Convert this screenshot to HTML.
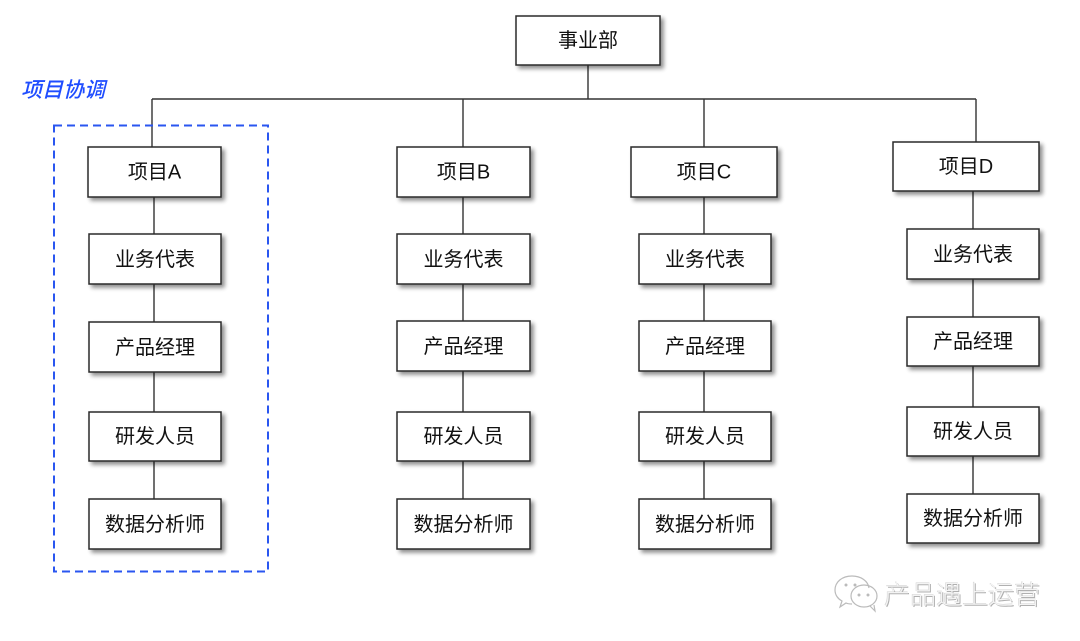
<!DOCTYPE html>
<html><head><meta charset="utf-8"><style>
html,body{margin:0;padding:0;background:#fff;}
svg{display:block;}
text{font-family:"Liberation Sans","Noto Sans CJK SC",sans-serif;}
</style></head><body>
<svg width="1080" height="641" viewBox="0 0 1080 641" xmlns="http://www.w3.org/2000/svg">
<defs>
<filter id="sh" x="-10%" y="-20%" width="130%" height="160%">
<feGaussianBlur in="SourceAlpha" stdDeviation="2"/>
<feOffset dx="3" dy="3" result="b"/>
<feComponentTransfer><feFuncA type="linear" slope="0.45"/></feComponentTransfer>
<feMerge><feMergeNode/><feMergeNode in="SourceGraphic"/></feMerge>
</filter>
</defs>
<rect width="1080" height="641" fill="#fff"/>

<!-- connectors -->
<g stroke="#333" stroke-width="1.4" fill="none">
<line x1="588" y1="65" x2="588" y2="99"/>
<line x1="152" y1="99" x2="976" y2="99"/>
<line x1="152" y1="99" x2="152" y2="147"/>
<line x1="463" y1="99" x2="463" y2="147"/>
<line x1="704" y1="99" x2="704" y2="147"/>
<line x1="976" y1="99" x2="976" y2="142"/>
<line x1="154" y1="197" x2="154" y2="499"/>
<line x1="463" y1="197" x2="463" y2="499"/>
<line x1="704" y1="197" x2="704" y2="499"/>
<line x1="973" y1="191" x2="973" y2="494"/>
</g>

<!-- dashed group -->
<rect x="54" y="125.5" width="214" height="446" fill="none" stroke="#2a56f0" stroke-width="2" stroke-dasharray="8 5"/>
<text x="0" y="0" font-size="21" fill="#1f4dff" font-weight="500" transform="translate(21,97) skewX(-14)">项目协调</text>

<!-- boxes -->
<g filter="url(#sh)" fill="#fff" stroke="#2a2a2a" stroke-width="1.5">
<rect x="516" y="16" width="144" height="49"/>
<rect x="88" y="147" width="133" height="50"/>
<rect x="397" y="147" width="133" height="50"/>
<rect x="631" y="147" width="146" height="50"/>
<rect x="893" y="142" width="146" height="49"/>

<rect x="89" y="234" width="132" height="50"/>
<rect x="89" y="322" width="132" height="50"/>
<rect x="89" y="412" width="132" height="49"/>
<rect x="89" y="499" width="132" height="50"/>

<rect x="397" y="234" width="133" height="50"/>
<rect x="397" y="321" width="133" height="50"/>
<rect x="397" y="412" width="133" height="49"/>
<rect x="397" y="499" width="133" height="50"/>

<rect x="639" y="234" width="132" height="50"/>
<rect x="639" y="321" width="132" height="50"/>
<rect x="639" y="412" width="132" height="49"/>
<rect x="639" y="499" width="132" height="50"/>

<rect x="907" y="229" width="132" height="50"/>
<rect x="907" y="317" width="132" height="49"/>
<rect x="907" y="407" width="132" height="49"/>
<rect x="907" y="494" width="132" height="49"/>
</g>

<g font-size="20" fill="#111" text-anchor="middle" dominant-baseline="central">
<text x="588" y="41">事业部</text>
<text x="154.5" y="172.5">项目A</text>
<text x="463.5" y="172.5">项目B</text>
<text x="704" y="172.5">项目C</text>
<text x="966" y="167">项目D</text>

<text x="155" y="260">业务代表</text>
<text x="155" y="348">产品经理</text>
<text x="155" y="437">研发人员</text>
<text x="155" y="525">数据分析师</text>

<text x="463.5" y="260">业务代表</text>
<text x="463.5" y="347">产品经理</text>
<text x="463.5" y="437">研发人员</text>
<text x="463.5" y="525">数据分析师</text>

<text x="705" y="260">业务代表</text>
<text x="705" y="347">产品经理</text>
<text x="705" y="437">研发人员</text>
<text x="705" y="525">数据分析师</text>

<text x="973" y="255">业务代表</text>
<text x="973" y="342">产品经理</text>
<text x="973" y="432">研发人员</text>
<text x="973" y="519">数据分析师</text>
</g>

<!-- watermark -->
<g fill="none" stroke="#bbb" stroke-width="1.2">
<path d="M852 576 c-10 0 -17 6 -17 14 c0 5 3 9 7 11 l-2 6 l6 -4 c2 1 4 1 6 1"/>
<path d="M852 576 c9 0 16 5 17 12"/>
<ellipse cx="864" cy="596" rx="13" ry="11"/>
<path d="M870 606 l5 5 l-1 -6"/>
</g>
<g fill="#bbb">
<circle cx="846" cy="585" r="1.5"/><circle cx="855" cy="585" r="1.5"/>
<circle cx="859" cy="595" r="1.5"/><circle cx="868" cy="595" r="1.5"/>
</g>
<text x="884" y="604" font-size="26" fill="#f4f4f4" font-weight="300" style="text-shadow:1px 1px 0 #b0b0b0, -0.5px -0.5px 0 #d0d0d0;">产品遇上运营</text>
</svg>
</body></html>
